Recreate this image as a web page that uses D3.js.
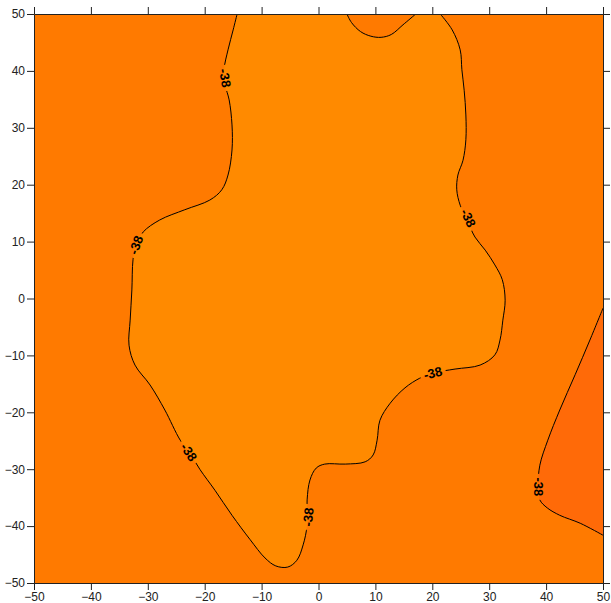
<!DOCTYPE html>
<html>
<head>
<meta charset="utf-8">
<script src="https://cdn.jsdelivr.net/npm/d3@7"></script>
<style>
  body { margin: 0; background: #fff; }
  svg { display: block; }
  .axis text { font-family: Arial, "Liberation Sans", sans-serif; font-size: 12px; fill: #222; }
  .axis path, .axis line { stroke: #222; stroke-width: 1; }
</style>
</head>
<body>
<svg id="chart" width="611" height="603"></svg>
<script>
// Axis extents and tick values
const xDomain = [-50, 50];
const yDomain = [-50, 50];
const tickValues = [-50, -40, -30, -20, -10, 0, 10, 20, 30, 40, 50];

// Contour level shown on the labels
const levelLabel = "-38";

// Main -38 contour, traced from the top edge (left side) round to the top edge (right side)
const mainContour = [
  [-14.3, 50], [-15.0, 47.2], [-15.9, 43.7], [-16.6, 40.2], [-16.4, 37.5], [-15.7, 34.9],
  [-15.2, 30.5], [-15.2, 26.1], [-15.9, 21.7], [-17.0, 19.1], [-19.1, 17.3], [-23.5, 15.6],
  [-27.9, 13.8], [-30.8, 11.7], [-32.1, 9.4], [-32.6, 6.8], [-32.8, 1.5], [-33.1, -3.8],
  [-33.3, -8.2], [-32.25, -11.7], [-29.6, -15.2], [-27.0, -19.6], [-24.3, -24.9], [-22.6, -27.2],
  [-20.8, -30.1], [-18.2, -33.7], [-15.2, -38.1], [-12.0, -42.4], [-9.4, -45.6], [-7.5, -47.0],
  [-5.4, -47.2], [-3.8, -46.0], [-2.7, -43.3], [-2.0, -39.8], [-2.0, -35.4], [-1.5, -31.9],
  [-0.4, -29.8], [1.1, -29.1], [4.7, -29.1], [8.2, -28.7], [9.6, -27.5], [10.3, -24.9],
  [10.8, -21.4], [12.6, -18.4], [15.2, -15.7], [17.8, -14.0], [20.1, -13.1], [24.0, -12.4],
  [28.4, -11.7], [31.0, -9.9], [31.9, -7.3], [32.4, -3.8], [32.8, -0.3], [32.3, 3.3],
  [31.0, 5.9], [29.3, 8.5], [27.5, 10.8], [26.1, 13.8], [24.9, 16.4], [24.3, 19.1],
  [24.5, 21.7], [25.4, 24.3], [25.9, 27.9], [25.9, 32.25], [25.6, 36.6], [25.2, 40.2],
  [24.9, 43.7], [23.5, 47.2], [21.4, 50]
];

// Small dip of the contour along the top edge
const topNotch = [
  [5.0, 50], [5.8, 48.5], [7.4, 46.9], [9.2, 46.1], [11.0, 45.9], [12.8, 46.4], [14.85, 48.1], [17.1, 50]
];

// Contour in the lower-right corner
const cornerContour = [
  [50, -1.7], [47.7, -7.3], [45.1, -13.4], [42.4, -19.6], [40.3, -24.9], [38.9, -29.3],
  [38.6, -33.1], [38.9, -35.4], [40.2, -36.8], [42.4, -38.1], [46.0, -39.5], [50, -41.6]
];

// Label anchor points on the contours
const labelPoints = [
  [-16.4, 38.75], [-32.1, 9.4], [26.3, 14.15], [20.1, -13.1],
  [38.6, -33.1], [-1.8, -38.4], [-22.8, -27.0]
];

// Fill colours for the three bands
const colorOuter = "#ff7a00";
const colorInner = "#ff8a00";
const colorCorner = "#ff6a08";

const svg = d3.select("#chart");
const x = d3.scaleLinear().domain(xDomain).range([34, 603]);
const y = d3.scaleLinear().domain(yDomain).range([583, 14]);

const line = d3.line().x(d => x(d[0])).y(d => y(d[1])).curve(d3.curveCatmullRom.alpha(0.5));

svg.append("defs").append("clipPath").attr("id", "plotClip")
  .append("rect").attr("x", x(-50)).attr("y", y(50))
  .attr("width", x(50) - x(-50)).attr("height", y(-50) - y(50));

const plot = svg.append("g").attr("clip-path", "url(#plotClip)");

// Background band
plot.append("rect")
  .attr("x", x(-50)).attr("y", y(50))
  .attr("width", x(50) - x(-50)).attr("height", y(-50) - y(50))
  .attr("fill", colorOuter);

// Inner band: main contour, then back along the top edge around the notch
const notchReversed = topNotch.slice().reverse();
const innerPath = line(mainContour) + "L" + line(notchReversed).slice(1) + "Z";
plot.append("path").attr("d", innerPath).attr("fill", colorInner);

// Corner band closed along the right edge
plot.append("path").attr("d", line(cornerContour) + "Z").attr("fill", colorCorner);

// Compute label placement and orientation
const allLines = [mainContour, topNotch, cornerContour].map(pts => pts.map(p => [x(p[0]), y(p[1])]));
const labels = labelPoints.map(p => {
  const px = x(p[0]), py = y(p[1]);
  let best = null;
  allLines.forEach(pts => {
    pts.forEach((q, i) => {
      const d = Math.hypot(q[0] - px, q[1] - py);
      if (!best || d < best.d) best = { d, pts, i };
    });
  });
  const pts = best.pts;
  const a = pts[Math.max(0, best.i - 1)], b = pts[Math.min(pts.length - 1, best.i + 1)];
  let ang = Math.atan2(b[1] - a[1], b[0] - a[0]) * 180 / Math.PI;
  if (ang > 90) ang -= 180;
  if (ang <= -90) ang += 180;
  return { px, py, ang };
});

// Mask that opens gaps in the contour lines under the labels
const mask = svg.select("defs").append("mask").attr("id", "labelGaps")
  .attr("maskUnits", "userSpaceOnUse");
mask.append("rect").attr("x", 0).attr("y", 0).attr("width", 611).attr("height", 603).attr("fill", "#fff");
mask.selectAll("rect.gap").data(labels).join("rect")
  .attr("class", "gap")
  .attr("x", -13).attr("y", -7).attr("width", 26).attr("height", 14)
  .attr("fill", "#000")
  .attr("transform", d => `translate(${d.px},${d.py}) rotate(${d.ang})`);

const lines = plot.append("g").attr("mask", "url(#labelGaps)")
  .attr("fill", "none").attr("stroke", "#000").attr("stroke-width", 1);
[mainContour, topNotch, cornerContour].forEach(pts => lines.append("path").attr("d", line(pts)));

plot.append("g").selectAll("text").data(labels).join("text")
  .attr("transform", d => `translate(${d.px},${d.py}) rotate(${d.ang})`)
  .attr("text-anchor", "middle")
  .attr("dy", "0.35em")
  .attr("font-family", "Arial, 'Liberation Sans', sans-serif")
  .attr("font-size", 13)
  .attr("font-weight", "bold")
  .attr("fill", "#000")
  .text(levelLabel);

// Axes: labelled on the left and bottom, tick-only on top and right
const tickLen = 7;
svg.append("g").attr("class", "axis").attr("transform", `translate(${x(-50)},0)`)
  .call(d3.axisLeft(y).tickValues(tickValues).tickSize(tickLen).tickSizeOuter(0).tickPadding(2));
svg.append("g").attr("class", "axis").attr("transform", `translate(0,${y(-50)})`)
  .call(d3.axisBottom(x).tickValues(tickValues).tickSize(tickLen).tickSizeOuter(0).tickPadding(2));
svg.append("g").attr("class", "axis").attr("transform", `translate(0,${y(50)})`)
  .call(d3.axisTop(x).tickValues(tickValues).tickSize(tickLen).tickSizeOuter(0).tickFormat(""));
svg.append("g").attr("class", "axis").attr("transform", `translate(${x(50)},0)`)
  .call(d3.axisRight(y).tickValues(tickValues).tickSize(tickLen).tickSizeOuter(0).tickFormat(""));
</script>
</body>
</html>
